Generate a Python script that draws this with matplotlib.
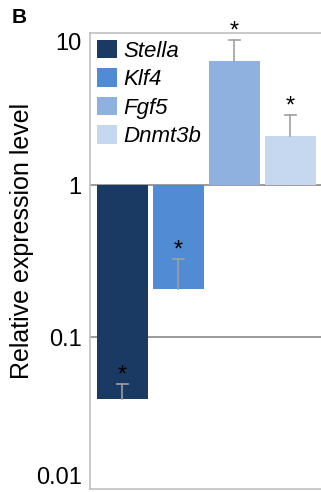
import matplotlib
matplotlib.use("Agg")
import matplotlib.pyplot as plt
from matplotlib.patches import Patch

plt.rcParams['font.family'] = ['Liberation Sans', 'DejaVu Sans']

genes = ["Stella", "Klf4", "Fgf5", "Dnmt3b"]
values = [0.039, 0.207, 6.5, 2.09]
err_ends = [0.049, 0.326, 9.0, 2.9]
colors = ["#1b3a63", "#508bd3", "#8eb1e0", "#c5d8f0"]
yticks = [0.01, 0.1, 1, 10]
ytick_labels = ["0.01", "0.1", "1", "10"]

W, H = 321, 492
fig = plt.figure(figsize=(W/100, H/100), dpi=100)
left, right, top, bottom = 90, 321, 33, 489
ax = fig.add_axes([left/W, 1-bottom/H, (right-left)/W, (bottom-top)/H])
ax.set_yscale('log')
ax.set_ylim(0.01, 10)
ax.set_xlim(-0.58, 3.55)

for y in [0.1, 1]:
    ax.axhline(y, color='#8a8a8a', lw=1.2, zorder=1)

xs = list(range(len(genes)))
for x, v, e, c in zip(xs, values, err_ends, colors):
    ax.bar(x, v - 1, bottom=1, width=0.91, color=c, zorder=2)
    ax.plot([x, x], [v, e], color='#a0a0a0', lw=1.2, zorder=3)
    ax.plot([x - 0.1, x + 0.1], [e, e], color='#a0a0a0', lw=1.2, zorder=3)
    ax.annotate("*", (x, e), xytext=(0, -2), textcoords='offset points',
                ha='center', va='bottom', fontsize=17, zorder=4)

ax.set_xticks([])
ax.set_yticks(yticks)
ax.set_yticklabels(ytick_labels, fontsize=17)
ax.yaxis.set_minor_locator(matplotlib.ticker.NullLocator())
ax.tick_params(axis='y', length=0, pad=6)
labs = ax.get_yticklabels()
labs[0].set_va('bottom')
labs[-1].set_va('top')
for s in ['left', 'top', 'bottom']:
    ax.spines[s].set_color('#c0c0c0')
    ax.spines[s].set_linewidth(1.2)
ax.spines['right'].set_visible(False)

ax.set_ylabel("Relative expression level", fontsize=18)
ax.yaxis.set_label_coords(-56/231, (489-241)/456)

handles = [Patch(facecolor=c, edgecolor='none') for c in colors]
leg = ax.legend(handles, genes, loc='upper left', frameon=False,
                prop={'style': 'italic', 'size': 16},
                handlelength=0.9, handleheight=0.9, handletextpad=0.3,
                labelspacing=0.3, borderaxespad=0.1, borderpad=0.2)

fig.text(12/W, 1-23/H, "B", fontsize=15, fontweight='bold', ha='left', va='baseline')

fig.savefig("out.png", dpi=100)
